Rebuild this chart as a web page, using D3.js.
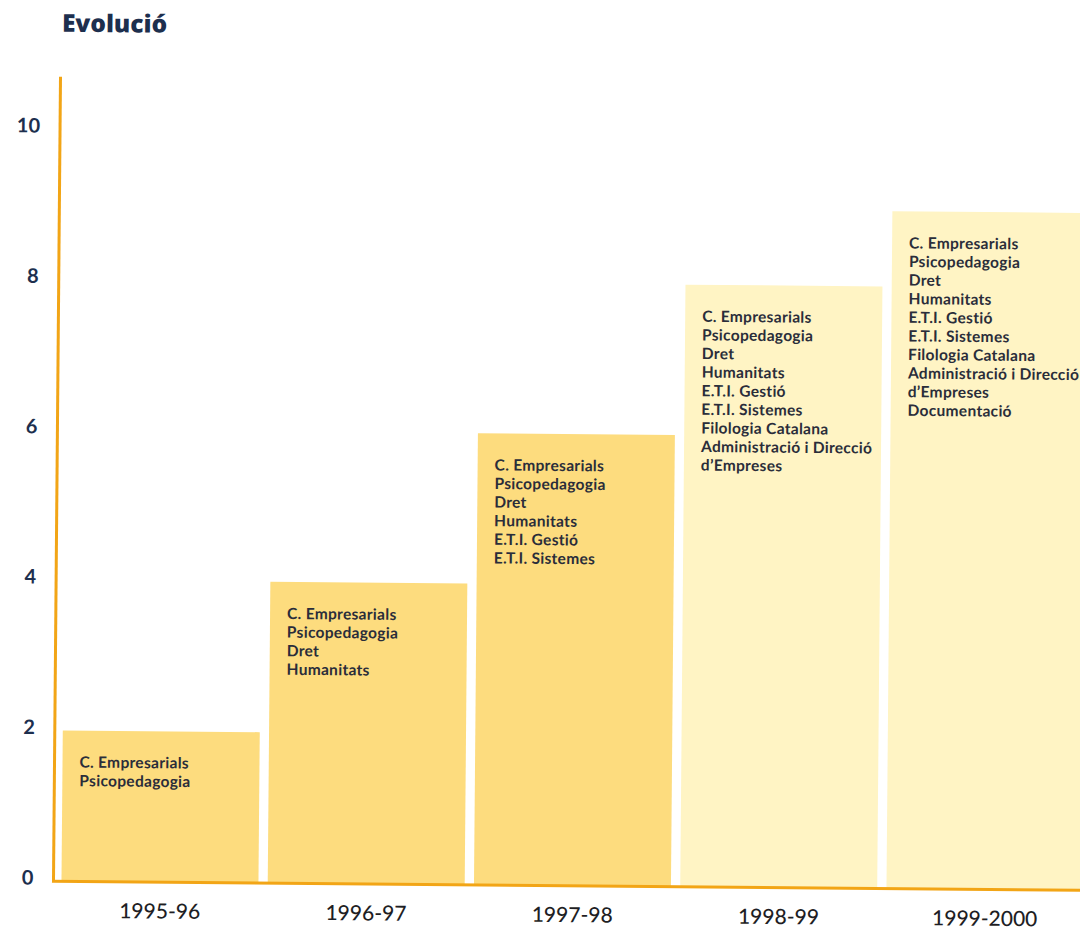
<!DOCTYPE html>
<html>
<head>
<meta charset="utf-8">
<script src="https://cdn.jsdelivr.net/npm/d3@7"></script>
<style>
  html, body { margin: 0; padding: 0; background: #ffffff; }
  svg { display: block; }
</style>
</head>
<body>
<svg id="chart" width="1080" height="936"></svg>
<script>
// ---- data ----
const title = "Evolució";
const categories = ["1995-96", "1996-97", "1997-98", "1998-99", "1999-2000"];
const values = [2, 4, 6, 8, 9];
const yTicks = [0, 2, 4, 6, 8, 10];
const programmes = [
  ["C. Empresarials", "Psicopedagogia"],
  ["C. Empresarials", "Psicopedagogia", "Dret", "Humanitats"],
  ["C. Empresarials", "Psicopedagogia", "Dret", "Humanitats", "E.T.I. Gestió", "E.T.I. Sistemes"],
  ["C. Empresarials", "Psicopedagogia", "Dret", "Humanitats", "E.T.I. Gestió", "E.T.I. Sistemes",
   "Filologia Catalana", "Administració i Direcció", "d’Empreses"],
  ["C. Empresarials", "Psicopedagogia", "Dret", "Humanitats", "E.T.I. Gestió", "E.T.I. Sistemes",
   "Filologia Catalana", "Administració i Direcció", "d’Empreses", "Documentació"]
];
const barShade = ["dark", "dark", "dark", "light", "light"];

// ---- styles ----
const navy = "#1d2f4e";
const axisColor = "#f2a516";
const fills = { dark: "#fddc7e", light: "#fff4c4" };
const font = "Lato, 'Open Sans', sans-serif";

const svg = d3.select("#chart");
const g = svg.append("g").attr("transform", "rotate(0.5, 540, 480)");

const x = d3.scaleBand().domain(categories).range([65, 1087]).paddingInner(0.045).paddingOuter(0);
const y = d3.scaleLinear().domain([0, 10]).range([885, 133]);

// title
g.append("text")
  .attr("x", 58).attr("y", 36)
  .attr("font-family", "'Open Sans', Lato, sans-serif").attr("font-weight", 800)
  .attr("font-size", 24.5).attr("fill", navy)
  .text(title);

// bars
g.selectAll("rect.bar").data(categories).join("rect")
  .attr("class", "bar")
  .attr("x", d => x(d))
  .attr("y", (d, i) => y(values[i]))
  .attr("width", x.bandwidth())
  .attr("height", (d, i) => y(0) - y(values[i]))
  .attr("fill", (d, i) => fills[barShade[i]]);

// bar text
const lineH = 18.6;
categories.forEach((c, i) => {
  const t = g.append("text")
    .attr("font-family", font).attr("font-weight", 700)
    .attr("font-size", 15.5).attr("letter-spacing", 0.3)
    .attr("fill", "#2a2d3a");
  programmes[i].forEach((p, j) => {
    t.append("tspan")
      .attr("x", x(c) + 17)
      .attr("y", y(values[i]) + 37 + j * lineH)
      .text(p);
  });
});

// y axis (labels only, line drawn separately)
const yAxis = d3.axisLeft(y).tickValues(yTicks).tickSize(0).tickPadding(0);
const ya = g.append("g").attr("transform", "translate(37,0)").call(yAxis);
ya.select(".domain").remove();
ya.selectAll("text")
  .attr("font-family", font).attr("font-weight", 700)
  .attr("font-size", 20).attr("fill", navy)
  .attr("dy", "0.32em")
  .attr("transform", "translate(0,-3)");

// x axis labels
const xAxis = d3.axisBottom(x).tickSize(0).tickPadding(0);
const xa = g.append("g").attr("transform", `translate(0,${y(0) + 22})`).call(xAxis);
xa.select(".domain").remove();
xa.selectAll("text")
  .attr("font-family", font).attr("font-weight", 500)
  .attr("font-size", 21).attr("fill", "#1e1e24");

// axis lines
g.append("line")
  .attr("x1", 57).attr("x2", 57)
  .attr("y1", 81).attr("y2", y(0) + 1)
  .attr("stroke", axisColor).attr("stroke-width", 3);
g.append("line")
  .attr("x1", 55.5).attr("x2", 1100)
  .attr("y1", y(0) + 0.5).attr("y2", y(0) + 0.5)
  .attr("stroke", axisColor).attr("stroke-width", 3);
</script>
</body>
</html>
